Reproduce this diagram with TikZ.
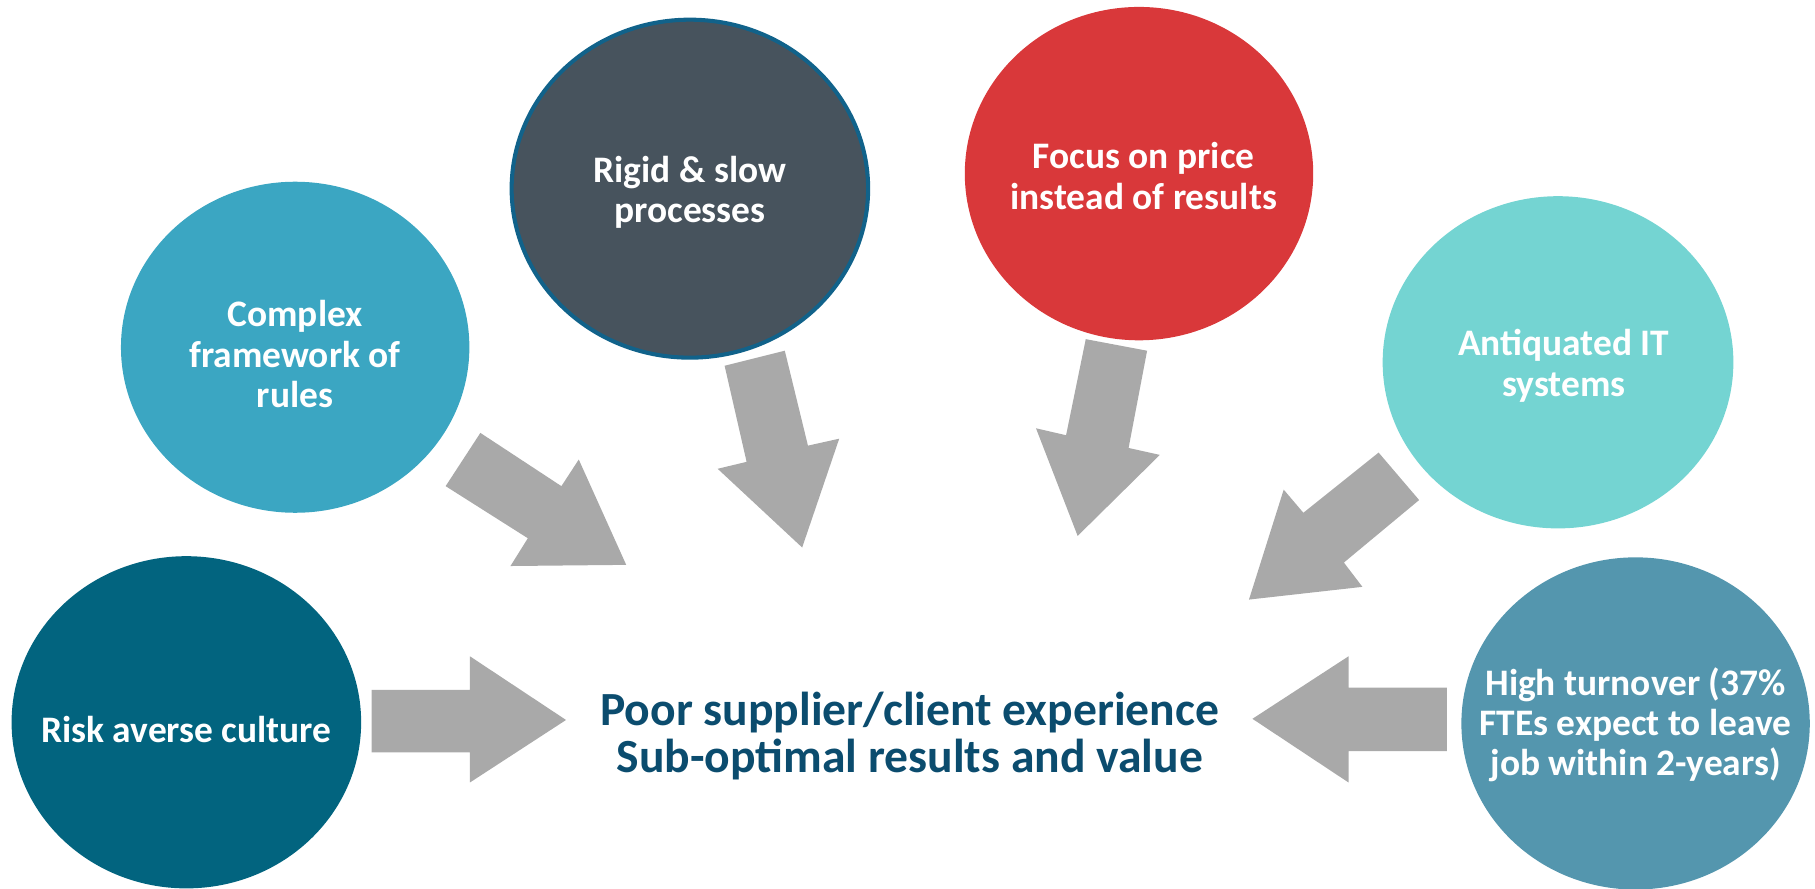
\documentclass[tikz,border=0pt]{standalone}
\usepackage{fontspec}
\setmainfont{Carlito}
\usetikzlibrary{shapes.geometric}
\definecolor{cComplex}{HTML}{3BA6C2}
\definecolor{cRigid}{HTML}{47535D}
\definecolor{cRigidB}{HTML}{11628A}
\definecolor{cFocus}{HTML}{D9383A}
\definecolor{cAntiq}{HTML}{74D4D2}
\definecolor{cRisk}{HTML}{02647F}
\definecolor{cHigh}{HTML}{5496AE}
\definecolor{cArrow}{HTML}{A9A9A9}
\definecolor{cCenter}{HTML}{0B4C6E}
\tikzset{
  bubble/.style={ellipse, inner sep=0pt, draw=none},
  bubtext/.style={text=white, font=\bfseries\fontsize{9.2}{9.9}\selectfont, align=center, inner sep=0pt},
  blockarrow/.style={fill=cArrow, draw=none},
}
\begin{document}
\begin{tikzpicture}[x=0.1mm,y=-0.1mm]
\useasboundingbox (0,0) rectangle (1568,768);
% bubbles
\node[bubble, fill=cComplex, minimum width=30.1mm, minimum height=28.6mm] (complex) at (255,300) {};
\node[bubble, fill=cRigid, draw=cRigidB, line width=1pt, minimum width=30.8mm, minimum height=29.2mm] (rigid) at (596,163) {};
\node[bubble, fill=cFocus, minimum width=30.1mm, minimum height=28.8mm] (focus) at (984,150) {};
\node[bubble, fill=cAntiq, minimum width=30.3mm, minimum height=28.7mm] (antiq) at (1346,313) {};
\node[bubble, fill=cRisk, minimum width=30.2mm, minimum height=28.7mm] (risk) at (161,624) {};
\node[bubble, fill=cHigh, minimum width=30.1mm, minimum height=28.7mm] (high) at (1413,625) {};
% texts
\node[bubtext] (tcomplex) at (255,306) {Complex\\framework of\\rules};
\node[bubtext] (trigid) at (596,166) {Rigid \& slow\\processes};
\node[bubtext] (tfocus) at (988,152) {Focus on price\\instead of results};
\node[bubtext] (tantiq) at (1351,316) {Antiquated IT\\systems};
\node[bubtext] (trisk) at (161,630) {Risk averse culture};
\node[bubtext] (thigh) at (1413,626) {High turnover (37\%\\FTEs expect to leave\\job within 2-years)};
\node[text=cCenter, font=\bfseries\fontsize{11.7}{11.6}\selectfont, align=center, inner sep=0pt] (center) at (786,636) {Poor supplier/client experience\\Sub-optimal results and value};
% block arrows
\fill[blockarrow] (415,374) -- (485,420) -- (500,397) -- (541,488) -- (441,489) -- (456,465) -- (385,420) -- cycle;
\fill[blockarrow] (626,316) -- (678,303) -- (698,385) -- (725,379) -- (693,473) -- (620,405) -- (645,399) -- cycle;
\fill[blockarrow] (938,293) -- (991,303) -- (975,387) -- (1002,393) -- (931,463) -- (895,370) -- (921,376) -- cycle;
\fill[blockarrow] (1191,391) -- (1226,432) -- (1161,486) -- (1177,507) -- (1079,518) -- (1109,423) -- (1126,443) -- cycle;
\fill[blockarrow] (321,596) -- (406,596) -- (406,567) -- (489,622) -- (406,676) -- (406,650) -- (321,650) -- cycle;
\fill[blockarrow] (1250,594) -- (1165,594) -- (1165,567) -- (1082,621) -- (1165,676) -- (1165,649) -- (1250,649) -- cycle;
\end{tikzpicture}
\end{document}
